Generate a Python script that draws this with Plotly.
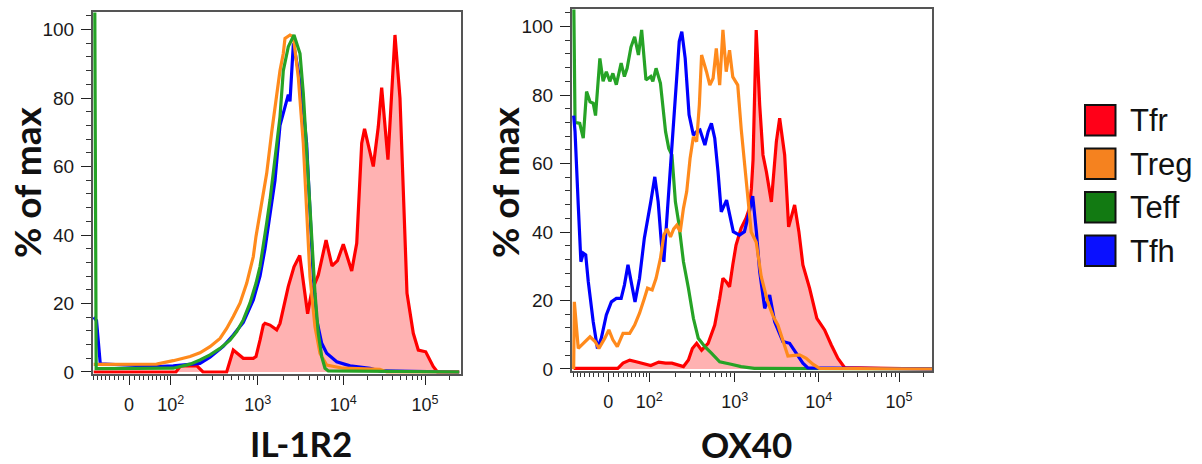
import numpy as np
import plotly.graph_objects as go

# ---------------- data (fluorescence intensity, % of max) ----------------
series_names = ["Tfr", "Treg", "Teff", "Tfh"]

# IL-1R2 panel
il1r2_tfr_x = [-80, 115, 130, 200, 235, 440, 524, 683, 890, 956, 1064, 1163, 1217, 1392, 1667, 1822, 2278,
               2655, 3100, 3409, 3830, 4273, 5105, 5850, 6290, 7380, 8553, 10000, 12670, 14600, 16800, 18200,
               23300, 26800, 29500, 35200, 42900, 49400, 55600, 60200, 71900, 82800, 102000, 126000, 142000, 262000]
il1r2_tfr_y = [0, 0, 1.8, 1.8, 0, 0, 6.4, 4.0, 4.0, 4.5, 9.3, 13.7, 14.2, 13.7, 12.3, 14.2, 25,
               30.7, 34, 26, 17, 23.5, 28.3, 35, 38.5, 31, 32.5, 37.3, 29.5, 37.6, 66.8, 71,
               60, 71.6, 83, 62, 98.4, 80, 42.4, 23, 11.3, 6.4, 5.9, 1.6, 0, 0]

il1r2_treg_x = [-80, 59, 107, 167, 217, 283, 369, 440, 524, 626, 747, 890, 956, 1163, 1274, 1457, 1667, 1822,
                1990, 2084, 2384, 2612, 2981, 3409, 3727, 4083, 4671, 5344, 6398, 9900, 28000, 34000, 262000]
il1r2_treg_y = [2.2, 2.3, 3.3, 4.5, 5.6, 7.4, 9.8, 12.7, 16.2, 20.1, 25.9, 33.7, 39.6, 53, 58, 70, 82, 88,
                93, 97.4, 98.4, 97.9, 86, 66.8, 47.3, 27.8, 13.2, 5.4, 2, 1.1, 0.8, 0, 0]

il1r2_teff_x = [-77, -73, 107, 167, 217, 283, 369, 480, 574, 683, 815, 956, 1064, 1163, 1274, 1392, 1521, 1667,
                1822, 1991, 2278, 2655, 3120, 3409, 3900, 4273, 4671, 5105, 5594, 6113, 6678, 262000]
il1r2_teff_y = [110, 1.0, 1.1, 2.3, 3.5, 5.0, 6.9, 9.3, 11.8, 15.2, 20.1, 25.9, 30.8, 36.7, 43.5, 50.2, 58, 66.8,
                74.5, 88, 95, 98.4, 93, 81.4, 57, 37.6, 23, 11.3, 4.5, 1.1, 0.3, 0]

il1r2_tfh_x = [-80, -72, -62, 59, 107, 217, 283, 402, 524, 683, 890, 1064, 1217, 1392, 1593, 1822, 2084, 2278,
               2384, 2495, 2612, 2981, 3409, 3727, 4083, 4462, 4890, 5594, 6398, 8375, 12100, 21200, 28000, 262000]
il1r2_tfh_y = [16, 15, 2.4, 1.6, 1.8, 2.5, 4.3, 7.5, 10.8, 14.5, 21, 28, 36, 46, 56, 72, 78, 81,
               79, 90, 96, 88, 76.5, 66.8, 47.3, 27.8, 15.2, 8.4, 5.5, 3.0, 1.8, 1.1, 0.3, 0]

# OX40 panel
ox40_tfr_x = [-80, 19, 30, 45, 61, 79, 104, 129, 155, 184, 220, 251, 287, 319, 358, 409, 488, 583, 666, 727,
              794, 869, 948, 1036, 1188, 1362, 1494, 1578, 1649, 1799, 1980, 2166, 2377, 2725, 3124, 3420, 3920,
              4371, 5151, 5790, 6461, 7757, 9469, 11800, 14300, 17300, 21000, 262000]
ox40_tfr_y = [0.2, 0.2, 1.7, 2.6, 2.1, 1.7, 1.0, 2.0, 1.7, 1.7, 1.0, 0.7, 2.6, 6.0, 7.5, 5.5, 7.5, 12.8, 20.6, 26.5,
              25.5, 24, 30.4, 36.2, 41.1, 44, 46.9, 52.8, 61, 99, 77, 62.5, 57.6, 48.8, 66.4, 73.2, 62.5,
              41.5, 47.9, 40.1, 30.4, 23.6, 14.8, 11.4, 7.0, 3.1, 0.4, 0]

ox40_treg_x = [-80, -78, -67, -54, -38, -27, -19, -7, 1, 9, 18, 30, 45, 57, 70, 84, 94, 108, 120, 135, 148, 161,
               177, 193, 210, 230, 251, 274, 300, 328, 358, 385, 409, 467, 511, 558, 608, 666, 727, 794, 869, 948,
               1085, 1194, 1369, 1569, 1800, 2063, 2463, 2847, 3264, 3741, 4289, 5902, 7089, 8488, 10200, 262000]
ox40_treg_y = [0, 19.6, 6.0, 7.5, 9.4, 8, 6, 9, 11.4, 8.5, 6.5, 10.4, 10.4, 12.8, 16.3, 20.6, 23.6, 23.1, 26.5, 32.3,
               39.1, 40.9, 38.6, 40.9, 42, 40.1, 46.9, 51.8, 61.5, 67.8, 66.4, 77.1, 91.7, 86.8, 82.9, 84.9, 93.6,
               82.9, 99, 86.8, 93.1, 85.3, 82.9, 70, 54, 40, 37, 27, 19.6, 15.5, 12.8, 8, 3.8, 4.1, 3.1, 1.4, 0.2, 0]

ox40_teff_x = [-80, -76, -63, -54, -46, -38, -31, -26, -17, -10.5, -4, 3, 9, 16, 26, 33, 39, 48, 57, 67, 76, 89,
               104, 110, 120, 135, 155, 169, 184, 202, 220, 251, 287, 328, 374, 447, 533, 666, 906, 1190, 1710, 262000]
ox40_teff_y = [110, 72, 71.7, 67.4, 81, 78, 77.6, 74, 90.7, 84, 86.8, 84, 86.3, 83, 89.3, 85.4, 87.8, 94, 97, 91.7,
               99, 84.4, 85.4, 84, 87.8, 83.4, 69.3, 64.4, 62.5, 48.8, 43, 31.3, 23.6, 14.8, 9, 6.5, 4.6, 2.1, 1.4,
               0.7, 0.2, 0]

ox40_tfh_x = [-80, -76, -67, -60, -54, -48, -42, -31, -22, -14, -4, 6, 16, 26, 33, 41, 50, 58, 70, 84, 104, 116,
              127, 139, 148, 161, 184, 205, 224, 240, 263, 292, 328, 358, 392, 447, 488, 533, 583, 637, 695, 802,
              906, 961, 1137, 1303, 1494, 1635, 1809, 1980, 2270, 2602, 2983, 3740, 4494, 5636, 6461, 7403, 262000]
ox40_tfh_y = [74, 69.3, 47.9, 31.3, 33.8, 33.3, 25.5, 13.8, 6.0, 9.0, 15.8, 19.6, 20.6, 20.6, 24.5, 30.4, 24.5,
              19.6, 26.5, 38.2, 48.8, 56.1, 48.8, 36.2, 31.3, 44, 65.4, 82, 95.6, 98.5, 90.7, 74.2, 68.3, 69.3,
              69.8, 65.4, 69.3, 71.7, 67.4, 57.6, 45.9, 49.3, 43, 40.1, 39.1, 40.1, 46, 50.5, 40, 28.4, 17.7,
              21.6, 13.8, 8, 7.5, 4.1, 1.7, 0.3, 0]

x_tick_values = [0, 100, 1000, 10000, 100000]
x_tick_labels = ["0", "10<sup>2</sup>", "10<sup>3</sup>", "10<sup>4</sup>", "10<sup>5</sup>"]
y_tick_values = [0, 20, 40, 60, 80, 100]
panel_titles = ["IL-1R2", "OX40"]
y_title = "% of max"

line_colors = {"Tfr": "#ff0000", "Treg": "#ff8a1c", "Teff": "#26a326", "Tfh": "#0000ff"}
legend_colors = {"Tfr": "#ff0018", "Treg": "#f5821f", "Teff": "#127a12", "Tfh": "#0a10ff"}


# ---------------- biexponential-like display scale ----------------
def biex(v):
    v = np.asarray(v, dtype=float)
    lin = 41.7 * np.arcsinh(v / 72.0) / np.arcsinh(100 / 72.0)
    lg = np.log10(np.clip(v, 100, None))
    logp = np.interp(lg, [2, 3, 4, 5], [41.7, 128.7, 214.3, 296.0])
    logp = np.where(lg > 5, 296.0 + (lg - 5) * 81.7, logp)
    return np.where(v < 100, lin, logp)


minor_vals = [s * k for s in (-1, 1) for k in range(10, 100, 10)]
minor_vals += [k * 10 ** n for n in (2, 3, 4) for k in range(2, 10)] + [200000]

W, H = 1202, 464
fig = go.Figure()

panels = [
    dict(data={"Tfr": (il1r2_tfr_x, il1r2_tfr_y), "Treg": (il1r2_treg_x, il1r2_treg_y),
               "Teff": (il1r2_teff_x, il1r2_teff_y), "Tfh": (il1r2_tfh_x, il1r2_tfh_y)},
         order=["Tfr", "Tfh", "Treg", "Teff"], xa="x", ya="y",
         xpx=(93, 461), ypx=(12.4, 373.7), xr=[-36, 332], title_xy=(301, 443), ytitle_x=26),
    dict(data={"Tfr": (ox40_tfr_x, ox40_tfr_y), "Treg": (ox40_treg_x, ox40_treg_y),
               "Teff": (ox40_teff_x, ox40_teff_y), "Tfh": (ox40_tfh_x, ox40_tfh_y)},
         order=["Tfr", "Teff", "Tfh", "Treg"], xa="x2", ya="y2",
         xpx=(572, 932), ypx=(9.4, 370.7), xr=[-37, 329.5], title_xy=(746, 444), ytitle_x=504),
]

tick_font = dict(family="Liberation Sans, Arial", size=19, color="#1a1a1a")
title_font = dict(family="Lato", size=35, color="#111111", weight="bold")
ytitle_font = dict(family="Lato", size=37, color="#111111", weight="bold")

for i, p in enumerate(panels):
    for name in p["order"]:
        xs, ys = p["data"][name]
        kw = {}
        if name == "Tfr":
            kw = dict(fill="tozeroy", fillcolor="rgba(255,0,0,0.3)")
        fig.add_trace(go.Scatter(x=biex(xs).tolist(), y=ys, mode="lines", name=name, showlegend=False,
                                 line=dict(color=line_colors[name], width=3.2), xaxis=p["xa"], yaxis=p["ya"], **kw))
    sfx = "" if i == 0 else "2"
    xdom = [p["xpx"][0] / W, p["xpx"][1] / W]
    ydom = [(H - p["ypx"][1]) / H, (H - p["ypx"][0]) / H]
    fig.layout["xaxis" + sfx] = dict(
        domain=xdom, range=p["xr"], anchor="y" + sfx, showline=True, mirror=True, linecolor="#555555",
        linewidth=2, ticks="outside", tickvals=biex(x_tick_values).tolist(), ticktext=x_tick_labels,
        ticklen=9, tickwidth=1.3, tickcolor="#222222", showgrid=False, zeroline=False, automargin=False,
        minor=dict(tickmode="array", tickvals=biex(minor_vals).tolist(), ticklen=4, tickwidth=1,
                   tickcolor="#333333", ticks="outside", showgrid=False),
        tickfont=dict(family="Liberation Sans, Arial", size=18, color="#1a1a1a"), ticklabelstandoff=5)
    fig.layout["yaxis" + sfx] = dict(
        domain=ydom, range=[-0.5, 105], anchor="x" + sfx, showline=True, mirror=True, linecolor="#555555",
        linewidth=2, ticks="outside", tickvals=y_tick_values, ticklen=10, tickwidth=1.3, tickcolor="#222222",
        showgrid=False, zeroline=False, automargin=False,
        minor=dict(dtick=4, tick0=0, ticklen=5, tickwidth=1, tickcolor="#333333", ticks="outside", showgrid=False),
        tickfont=tick_font, ticklabelstandoff=3)
    tx, ty = p["title_xy"]
    fig.add_annotation(text=panel_titles[i], x=tx / W, y=(H - ty) / H, xref="paper", yref="paper",
                       xanchor="center", yanchor="middle", showarrow=False, font=title_font)
    fig.add_annotation(text=y_title, x=p["ytitle_x"] / W, y=(H - 183) / H, xref="paper", yref="paper",
                       xanchor="center", yanchor="middle", showarrow=False, textangle=-90, font=ytitle_font)

# legend (drawn as boxes + labels)
for k, name in enumerate(series_names):
    top = 105 + k * 43.5
    bot = top + 30.5
    fig.add_shape(type="rect", xref="paper", yref="paper", x0=1085 / W, x1=1115.5 / W,
                  y0=(H - bot) / H, y1=(H - top) / H, fillcolor=legend_colors[name],
                  line=dict(color="#111111", width=2))
    fig.add_annotation(text=name, x=1128 / W, y=(H - (top + 15.5)) / H, xref="paper", yref="paper",
                       xanchor="left", yanchor="middle", showarrow=False,
                       font=dict(family="Liberation Sans, Arial", size=31, color="#111111"))

fig.update_layout(width=W, height=H, margin=dict(l=0, r=0, t=0, b=0, autoexpand=False), paper_bgcolor="white",
                  plot_bgcolor="white", showlegend=False)
fig.write_html("out.html", config={"displayModeBar": False},
               post_script="document.body.style.margin='0px';document.body.style.padding='0px';")
